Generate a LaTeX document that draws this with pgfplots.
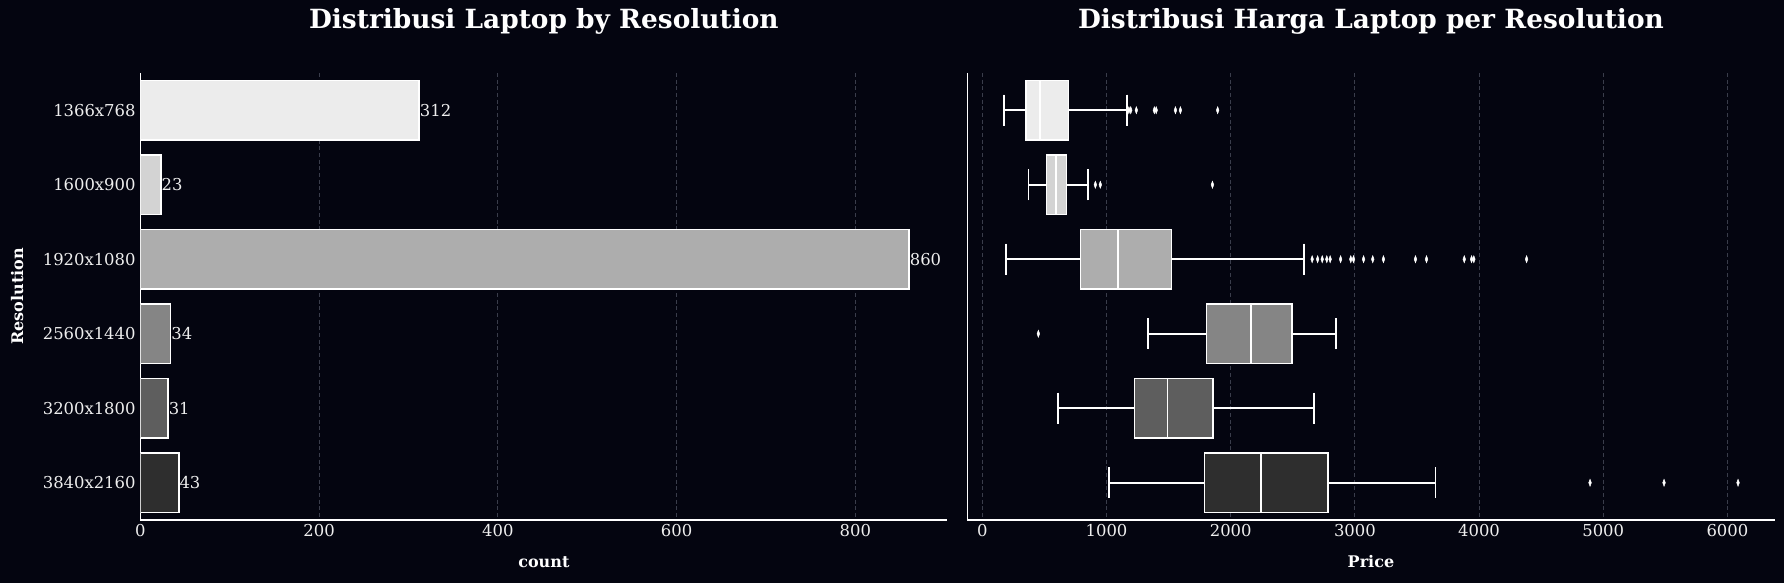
\documentclass[border=0pt]{standalone}
\usepackage{pgfplots}
\pgfplotsset{compat=1.18}
\usepgfplotslibrary{statistics}
\usepackage{fontspec}
\setmainfont{DejaVu Serif}
\definecolor{bg}{RGB}{4,5,16}
\definecolor{gridc}{RGB}{58,61,75}
\definecolor{txt}{RGB}{238,238,238}
\definecolor{c1}{HTML}{ECECEC}
\definecolor{c2}{HTML}{D3D3D3}
\definecolor{c3}{HTML}{ADADAD}
\definecolor{c4}{HTML}{858585}
\definecolor{c5}{HTML}{5E5E5E}
\definecolor{c6}{HTML}{2E2E2E}
\pgfplotsset{
  common/.style={
    scale only axis,
    width=605.4pt, height=335.3pt,
    ymin=-0.5, ymax=5.5, y dir=reverse,
    axis x line*=bottom, axis y line*=left,
    axis line style={white, line width=0.9pt, -},
    major tick length=0pt,
    xmajorgrids, major grid style={gridc, dash pattern=on 3pt off 2pt, line width=0.6pt},
    ticklabel style={font=\fontsize{12.3}{14}\selectfont, text=txt},
    /pgf/number format/assume math mode=true,
    /pgf/number format/1000 sep={},
    label style={font=\bfseries\fontsize{12}{14}\selectfont, text=white},
    xlabel style={at={(axis description cs:0.5,-0.094)}, anchor=center},
    title style={font=\bfseries\fontsize{19.8}{24}\selectfont, text=white, at={(axis description cs:0.5,1)}, anchor=center, yshift=33pt},
  },
  bx/.style={draw=white, line width=1.2pt, fill=#1, mark=diamond*, mark size=2.7pt,
    mark options={fill=white, draw=white, line width=0.3pt, xscale=0.5},
    boxplot/every box/.style={draw=white, line width=1.2pt, fill=#1},
    boxplot/every whisker/.style={draw=white, line width=1.2pt},
    boxplot/every median/.style={draw=white, line width=1.2pt}},
}
\begin{document}
\begin{tikzpicture}
\fill[bg] (-105.2pt,-47.25pt) rectangle (1232.8pt,390pt);
\begin{axis}[common, at={(0,0)}, anchor=south west,
  xmin=0, xmax=903,
  xtick={0,200,...,800},
  ytick={0,...,5},
  yticklabels={1366x768,1600x900,1920x1080,2560x1440,3200x1800,3840x2160},
  xlabel={count}, ylabel={Resolution},
  ylabel style={at={(axis description cs:-0.1525,0.5)}, anchor=center},
  title={Distribusi Laptop by Resolution},
  xbar, bar width=0.8, bar shift=0pt,
  nodes near coords, nodes near coords align=horizontal,
  every node near coord/.append style={anchor=west, inner sep=0pt, text=txt, font=\fontsize{12.3}{14}\selectfont},
]
\addplot[fill=c1, draw=white, line width=1.2pt] coordinates {(312,0)};
\addplot[fill=c2, draw=white, line width=1.2pt] coordinates {(23,1)};
\addplot[fill=c3, draw=white, line width=1.2pt] coordinates {(860,2)};
\addplot[fill=c4, draw=white, line width=1.2pt] coordinates {(34,3)};
\addplot[fill=c5, draw=white, line width=1.2pt] coordinates {(31,4)};
\addplot[fill=c6, draw=white, line width=1.2pt] coordinates {(43,5)};
\end{axis}
\begin{axis}[common, at={(620.3pt,0)}, anchor=south west,
  xmin=-121, xmax=6380,
  xtick={0,1000,...,6000},
  ytick=\empty,
  xlabel={Price},
  title={Distribusi Harga Laptop per Resolution},
  boxplot/draw direction=x,
  boxplot/box extend=0.8,
  boxplot/whisker extend=0.42,
]
\addplot[bx=c1, boxplot prepared={draw position=0, lower whisker=173, lower quartile=351, median=466, upper quartile=695, upper whisker=1165}]
  table[row sep=\\, y index=0] {v\\ 1180\\ 1195\\ 1240\\ 1385\\ 1400\\ 1555\\ 1595\\ 1895\\};
\addplot[bx=c2, boxplot prepared={draw position=1, lower whisker=373, lower quartile=517, median=591, upper quartile=677, upper whisker=850}]
  table[row sep=\\, y index=0] {v\\ 910\\ 950\\ 1853\\};
\addplot[bx=c3, boxplot prepared={draw position=2, lower whisker=188, lower quartile=791, median=1091, upper quartile=1524, upper whisker=2589}]
  table[row sep=\\, y index=0] {v\\ 2656\\ 2700\\ 2737\\ 2774\\ 2801\\ 2885\\ 2967\\ 2989\\ 3070\\ 3144\\ 3230\\ 3488\\ 3577\\ 3881\\ 3940\\ 3958\\ 4383\\};
\addplot[bx=c4, boxplot prepared={draw position=3, lower whisker=1335, lower quartile=1805, median=2164, upper quartile=2496, upper whisker=2848}]
  table[row sep=\\, y index=0] {v\\ 451\\};
\addplot[bx=c5, boxplot prepared={draw position=4, lower whisker=610, lower quartile=1224, median=1491, upper quartile=1857, upper whisker=2670}]
  coordinates {};
\addplot[bx=c6, boxplot prepared={draw position=5, lower whisker=1019, lower quartile=1789, median=2242, upper quartile=2785, upper whisker=3648}]
  table[row sep=\\, y index=0] {v\\ 4894\\ 5490\\ 6086\\};
\end{axis}
\pgfresetboundingbox
\path[use as bounding box] (-105.2pt,-47.25pt) rectangle (1232.8pt,390pt);
\end{tikzpicture}
\end{document}
